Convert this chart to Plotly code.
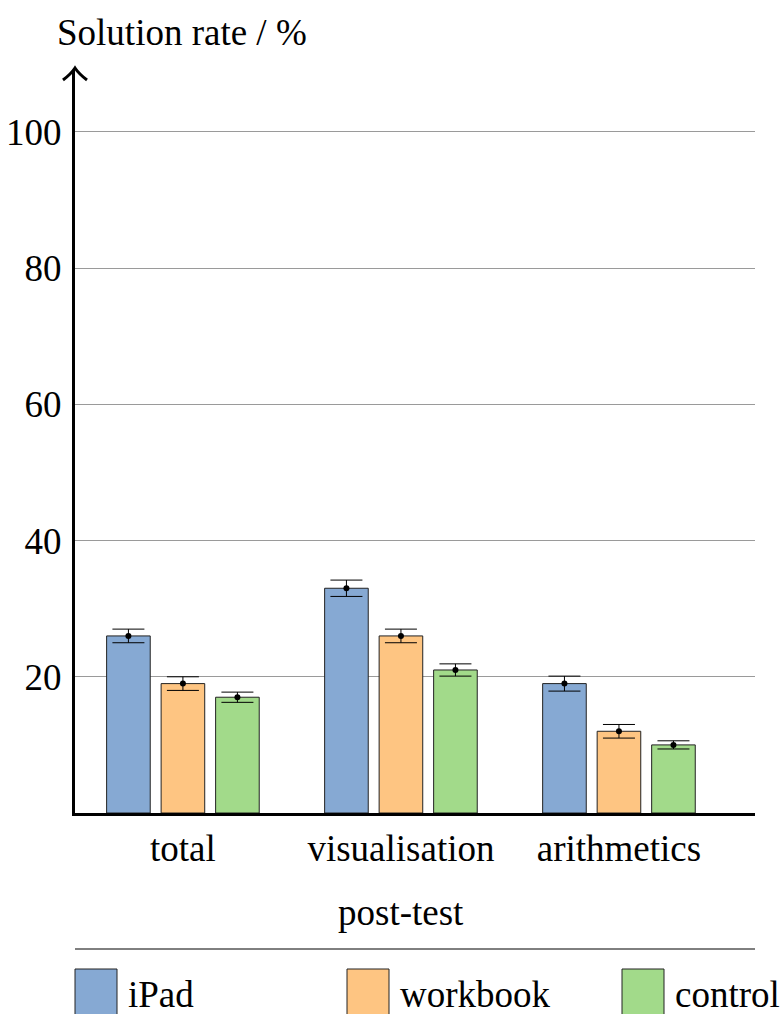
import plotly.graph_objects as go

# Solution rates (%) in the post-test, with error half-widths
categories = ["total", "visualisation", "arithmetics"]
groups = ["iPad", "workbook", "control"]
ipad = [26, 33, 19]
ipad_err = [1.0, 1.2, 1.1]
workbook = [19, 26, 12]
workbook_err = [1.0, 1.0, 1.0]
control = [17, 21, 10]
control_err = [0.75, 0.9, 0.6]
y_ticks = [20, 40, 60, 80, 100]

series = [(ipad, ipad_err), (workbook, workbook_err), (control, control_err)]
colors = ["#86A9D3", "#FEC582", "#A2DA8A"]

W, H = 781, 1014
L, R, T, B = 75, 755, 70, 813          # plot area in pixels
FONT = "Liberation Serif"
FS = 37


def px(x):
    return (x - L) / (R - L)


def py(y):
    return (B - y) / (B - T)


offsets = [-0.25, 0.0, 0.25]
bar_w = 0.2
y_top = 109.1
x_range = [-0.495, 2.624]

fig = go.Figure()
for k, (name, (vals, errs)) in enumerate(zip(groups, series)):
    xs = [i + offsets[k] for i in range(len(categories))]
    fig.add_trace(go.Bar(
        x=xs, y=vals, width=bar_w, name=name,
        marker=dict(color=colors[k], line=dict(color="#222222", width=1)),
        showlegend=False,
    ))
    fig.add_trace(go.Scatter(
        x=xs, y=vals, mode="markers",
        marker=dict(color="black", size=6),
        error_y=dict(type="data", array=errs, visible=True,
                     color="black", thickness=1, width=16),
        showlegend=False, hoverinfo="skip",
    ))

shapes = []
annotations = []

# arrowhead at the top of the y axis
shapes.append(dict(
    type="path", xref="paper", yref="paper",
    xsizemode="pixel", ysizemode="pixel",
    xanchor=0, yanchor=1,
    path="M -12,-10 Q -4,-4 0,2 Q 4,-4 12,-10",
    line=dict(color="black", width=3),
))

# y axis title
annotations.append(dict(
    text="Solution rate / %", xref="paper", yref="paper",
    x=px(182), y=py(32), xanchor="center", yanchor="middle",
    showarrow=False, font=dict(family=FONT, size=FS, color="black"),
))

# x axis title, centred under the middle category
annotations.append(dict(
    text="post-test", xref="x", yref="paper",
    x=(len(categories) - 1) / 2, y=py(912), xanchor="center", yanchor="middle",
    showarrow=False, font=dict(family=FONT, size=FS, color="black"),
))

# legend: separator line, coloured boxes and labels
shapes.append(dict(type="line", xref="paper", yref="paper",
                   x0=px(75), x1=px(755), y0=py(949), y1=py(949),
                   line=dict(color="black", width=1)))
box_x = [75, 347, 622]
for k, name in enumerate(groups):
    shapes.append(dict(type="rect", xref="paper", yref="paper",
                       x0=px(box_x[k]), x1=px(box_x[k] + 42),
                       y0=py(969), y1=py(1030),
                       fillcolor=colors[k],
                       line=dict(color="#222222", width=1)))
    annotations.append(dict(
        text=name, xref="paper", yref="paper",
        x=px(box_x[k] + 51), y=py(995), xanchor="left", yanchor="middle",
        showarrow=False, font=dict(family=FONT, size=FS, color="black"),
    ))

fig.update_layout(
    width=W, height=H,
    margin=dict(l=L, r=W - R, t=T, b=H - B, pad=0),
    paper_bgcolor="white", plot_bgcolor="white",
    font=dict(family=FONT, size=FS, color="black"),
    shapes=shapes, annotations=annotations,
    xaxis=dict(
        range=x_range, tickmode="array",
        tickvals=list(range(len(categories))), ticktext=categories,
        showgrid=False, zeroline=False, automargin=False,
        showline=True, linecolor="black", linewidth=3,
        ticks="", ticklabelstandoff=1,
    ),
    yaxis=dict(
        range=[0, y_top], tickmode="array", tickvals=y_ticks,
        showgrid=True, gridcolor="#9a9a9a", gridwidth=1,
        zeroline=False, automargin=False,
        showline=True, linecolor="black", linewidth=3,
        ticks="", ticklabelstandoff=3,
    ),
)

fig.write_html("out.html")
